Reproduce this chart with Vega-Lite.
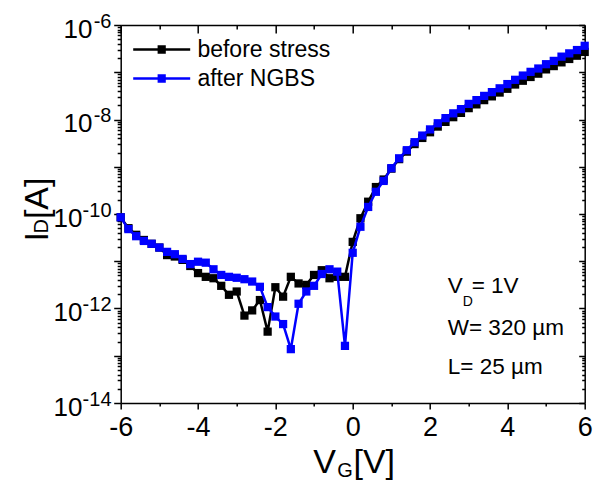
{
  "$schema": "https://vega.github.io/schema/vega-lite/v6.json",
  "width": 464,
  "height": 378,
  "autosize": {"type": "none"},
  "padding": {"left": 120.7, "top": 25, "right": 9.3, "bottom": 77},
  "background": "white",
  "config": {
    "font": "Liberation Sans",
    "view": {"stroke": null},
    "axis": {"domainColor": "black", "tickColor": "black", "labelColor": "black", "titleColor": "black", "domainWidth": 1.5, "tickWidth": 1.5, "grid": false, "labelFont": "Liberation Sans", "titleFont": "Liberation Sans", "titleFontWeight": "normal", "labelOverlap": false, "labelFlush": false}
  },
  "datasets": {
    "before": [
      {"V": -6, "I": 8.51e-11, "s": "before stress"}, {"V": -5.8, "I": 5.01e-11, "s": "before stress"}, {"V": -5.6, "I": 3.63e-11, "s": "before stress"}, {"V": -5.4, "I": 2.82e-11, "s": "before stress"}, {"V": -5.2, "I": 2.34e-11, "s": "before stress"}, {"V": -5, "I": 1.95e-11, "s": "before stress"}, {"V": -4.8, "I": 1.35e-11, "s": "before stress"}, {"V": -4.6, "I": 1.26e-11, "s": "before stress"}, {"V": -4.4, "I": 1.07e-11, "s": "before stress"}, {"V": -4.2, "I": 7.94e-12, "s": "before stress"}, {"V": -4, "I": 5.62e-12, "s": "before stress"}, {"V": -3.8, "I": 4.68e-12, "s": "before stress"}, {"V": -3.6, "I": 4.37e-12, "s": "before stress"}, {"V": -3.4, "I": 3.02e-12, "s": "before stress"}, {"V": -3.2, "I": 1.95e-12, "s": "before stress"}, {"V": -3, "I": 2.29e-12, "s": "before stress"}, {"V": -2.8, "I": 7.08e-13, "s": "before stress"}, {"V": -2.6, "I": 9.12e-13, "s": "before stress"}, {"V": -2.4, "I": 1.51e-12, "s": "before stress"}, {"V": -2.2, "I": 3.24e-13, "s": "before stress"}, {"V": -2, "I": 2.82e-12, "s": "before stress"}, {"V": -1.8, "I": 1.78e-12, "s": "before stress"}, {"V": -1.6, "I": 4.68e-12, "s": "before stress"}, {"V": -1.4, "I": 3.39e-12, "s": "before stress"}, {"V": -1.2, "I": 3.16e-12, "s": "before stress"}, {"V": -1, "I": 5.13e-12, "s": "before stress"}, {"V": -0.8, "I": 6.46e-12, "s": "before stress"}, {"V": -0.6, "I": 4.37e-12, "s": "before stress"}, {"V": -0.4, "I": 4.68e-12, "s": "before stress"}, {"V": -0.2, "I": 4.68e-12, "s": "before stress"}, {"V": 0, "I": 2.57e-11, "s": "before stress"}, {"V": 0.2, "I": 8.13e-11, "s": "before stress"}, {"V": 0.4, "I": 1.82e-10, "s": "before stress"}, {"V": 0.6, "I": 3.72e-10, "s": "before stress"}, {"V": 0.8, "I": 5.37e-10, "s": "before stress"}, {"V": 1, "I": 9.12e-10, "s": "before stress"}, {"V": 1.2, "I": 1.45e-9, "s": "before stress"}, {"V": 1.4, "I": 2.09e-9, "s": "before stress"}, {"V": 1.6, "I": 3.02e-9, "s": "before stress"}, {"V": 1.8, "I": 4.07e-9, "s": "before stress"}, {"V": 2, "I": 5.37e-9, "s": "before stress"}, {"V": 2.2, "I": 7.08e-9, "s": "before stress"}, {"V": 2.4, "I": 8.91e-9, "s": "before stress"}, {"V": 2.6, "I": 1.12e-8, "s": "before stress"}, {"V": 2.8, "I": 1.38e-8, "s": "before stress"}, {"V": 3, "I": 1.74e-8, "s": "before stress"}, {"V": 3.2, "I": 2.09e-8, "s": "before stress"}, {"V": 3.4, "I": 2.57e-8, "s": "before stress"}, {"V": 3.6, "I": 3.09e-8, "s": "before stress"}, {"V": 3.8, "I": 3.72e-8, "s": "before stress"}, {"V": 4, "I": 4.47e-8, "s": "before stress"}, {"V": 4.2, "I": 5.5e-8, "s": "before stress"}, {"V": 4.4, "I": 6.61e-8, "s": "before stress"}, {"V": 4.6, "I": 7.94e-8, "s": "before stress"}, {"V": 4.8, "I": 9.33e-8, "s": "before stress"}, {"V": 5, "I": 1.15e-7, "s": "before stress"}, {"V": 5.2, "I": 1.35e-7, "s": "before stress"}, {"V": 5.4, "I": 1.62e-7, "s": "before stress"}, {"V": 5.6, "I": 1.91e-7, "s": "before stress"}, {"V": 5.8, "I": 2.24e-7, "s": "before stress"}, {"V": 6, "I": 2.69e-7, "s": "before stress"}
    ],
    "after": [
      {"V": -6, "I": 8.51e-11, "s": "after NGBS"}, {"V": -5.8, "I": 4.79e-11, "s": "after NGBS"}, {"V": -5.6, "I": 3.39e-11, "s": "after NGBS"}, {"V": -5.4, "I": 2.69e-11, "s": "after NGBS"}, {"V": -5.2, "I": 2.34e-11, "s": "after NGBS"}, {"V": -5, "I": 1.95e-11, "s": "after NGBS"}, {"V": -4.8, "I": 1.58e-11, "s": "after NGBS"}, {"V": -4.6, "I": 1.41e-11, "s": "after NGBS"}, {"V": -4.4, "I": 1.12e-11, "s": "after NGBS"}, {"V": -4.2, "I": 8.71e-12, "s": "after NGBS"}, {"V": -4, "I": 9.77e-12, "s": "after NGBS"}, {"V": -3.8, "I": 9.33e-12, "s": "after NGBS"}, {"V": -3.6, "I": 6.76e-12, "s": "after NGBS"}, {"V": -3.4, "I": 5.13e-12, "s": "after NGBS"}, {"V": -3.2, "I": 4.68e-12, "s": "after NGBS"}, {"V": -3, "I": 4.47e-12, "s": "after NGBS"}, {"V": -2.8, "I": 4.17e-12, "s": "after NGBS"}, {"V": -2.6, "I": 3.72e-12, "s": "after NGBS"}, {"V": -2.4, "I": 2.88e-12, "s": "after NGBS"}, {"V": -2.2, "I": 1.07e-12, "s": "after NGBS"}, {"V": -2, "I": 6.76e-13, "s": "after NGBS"}, {"V": -1.8, "I": 4.68e-13, "s": "after NGBS"}, {"V": -1.6, "I": 1.38e-13, "s": "after NGBS"}, {"V": -1.4, "I": 1.26e-12, "s": "after NGBS"}, {"V": -1.2, "I": 2.29e-12, "s": "after NGBS"}, {"V": -1, "I": 3.02e-12, "s": "after NGBS"}, {"V": -0.8, "I": 5.37e-12, "s": "after NGBS"}, {"V": -0.6, "I": 6.76e-12, "s": "after NGBS"}, {"V": -0.4, "I": 6.03e-12, "s": "after NGBS"}, {"V": -0.2, "I": 1.62e-13, "s": "after NGBS"}, {"V": 0, "I": 1.51e-11, "s": "after NGBS"}, {"V": 0.2, "I": 5.37e-11, "s": "after NGBS"}, {"V": 0.4, "I": 1.41e-10, "s": "after NGBS"}, {"V": 0.6, "I": 2.95e-10, "s": "after NGBS"}, {"V": 0.8, "I": 5.01e-10, "s": "after NGBS"}, {"V": 1, "I": 9.33e-10, "s": "after NGBS"}, {"V": 1.2, "I": 1.51e-9, "s": "after NGBS"}, {"V": 1.4, "I": 2.24e-9, "s": "after NGBS"}, {"V": 1.6, "I": 3.31e-9, "s": "after NGBS"}, {"V": 1.8, "I": 4.57e-9, "s": "after NGBS"}, {"V": 2, "I": 6.17e-9, "s": "after NGBS"}, {"V": 2.2, "I": 8.32e-9, "s": "after NGBS"}, {"V": 2.4, "I": 1.07e-8, "s": "after NGBS"}, {"V": 2.6, "I": 1.35e-8, "s": "after NGBS"}, {"V": 2.8, "I": 1.66e-8, "s": "after NGBS"}, {"V": 3, "I": 2.14e-8, "s": "after NGBS"}, {"V": 3.2, "I": 2.57e-8, "s": "after NGBS"}, {"V": 3.4, "I": 3.16e-8, "s": "after NGBS"}, {"V": 3.6, "I": 3.8e-8, "s": "after NGBS"}, {"V": 3.8, "I": 4.57e-8, "s": "after NGBS"}, {"V": 4, "I": 5.62e-8, "s": "after NGBS"}, {"V": 4.2, "I": 6.92e-8, "s": "after NGBS"}, {"V": 4.4, "I": 8.51e-8, "s": "after NGBS"}, {"V": 4.6, "I": 1.02e-7, "s": "after NGBS"}, {"V": 4.8, "I": 1.2e-7, "s": "after NGBS"}, {"V": 5, "I": 1.48e-7, "s": "after NGBS"}, {"V": 5.2, "I": 1.74e-7, "s": "after NGBS"}, {"V": 5.4, "I": 2.14e-7, "s": "after NGBS"}, {"V": 5.6, "I": 2.51e-7, "s": "after NGBS"}, {"V": 5.8, "I": 2.95e-7, "s": "after NGBS"}, {"V": 6, "I": 3.63e-7, "s": "after NGBS"}
    ]
  },
  "layer": [
    {
      "data": {"name": "before"},
      "mark": {"type": "line", "strokeWidth": 2.5},
      "encoding": {
        "x": {"field": "V", "type": "quantitative", "scale": {"domain": [-6, 6], "nice": false, "zero": false},
          "axis": {"orient": "bottom", "values": [-6, -4, -2, 0, 2, 4, 6], "tickSize": 6, "labelFontSize": 27, "labelPadding": 5, "labelExpr": "'' + datum.value",
            "title": "V", "titleFontSize": 34, "titleAlign": "left", "titleBaseline": "alphabetic", "titleAngle": 0, "titleX": 192, "titleY": 69}},
        "y": {"field": "I", "type": "quantitative", "scale": {"type": "log", "domain": [1e-14, 1e-6], "nice": false},
          "axis": {"orient": "left", "values": [1e-14, 1e-13, 1e-12, 1e-11, 1e-10, 1e-9, 1e-8, 1e-7, 1e-6], "tickSize": 7,
            "labelExpr": "indexof(['1e-6','1e-8','1e-10','1e-12','1e-14'], format(datum.value, '.0e')) >= 0 ? '10' : ''",
            "labelFontSize": 26, "labelAlign": "right", "labelBaseline": "alphabetic", "labelOffset": 12,
            "labelPadding": {"condition": {"test": "datum.value > 5e-9", "value": 21.7}, "value": 31.7},
            "title": "I", "titleFontSize": 34, "titleAngle": -90, "titleAlign": "left", "titleBaseline": "alphabetic", "titleX": -73.7, "titleY": 216}},
        "color": {"field": "s", "type": "nominal", "scale": {"domain": ["before stress", "after NGBS"], "range": ["#000000", "#0000ff"]},
          "legend": {"orient": "none", "legendX": 29.5, "legendY": 13, "title": null, "padding": 0,
            "labelFontSize": 23, "labelFont": "Liberation Sans", "labelColor": "black", "labelOffset": 24.2,
            "symbolType": "M-2.85,0H2.85M-0.41,-0.3H0.41M-0.41,-0.15H0.41M-0.41,0H0.41M-0.41,0.15H0.41M-0.41,0.3H0.41", "symbolSize": 400, "symbolStrokeWidth": 2.5, "rowPadding": 5}}
      }
    },
    {
      "data": {"name": "before"},
      "mark": {"type": "square", "size": 68, "opacity": 1},
      "encoding": {
        "x": {"field": "V", "type": "quantitative",
          "axis": {"orient": "top", "values": [-6, -5, -4, -3, -2, -1, 0, 1, 2, 3, 4, 5, 6], "labels": false,
            "tickSize": {"condition": {"test": "datum.value % 2 == 0", "value": -8}, "value": -4},
            "title": "[V]", "titleFontSize": 34, "titleAlign": "left", "titleBaseline": "alphabetic", "titleAngle": 0, "titleX": 232.3, "titleY": 447}},
        "y": {"field": "I", "type": "quantitative",
          "axis": {"orient": "right", "labels": false,
            "values": [1e-14, 2e-14, 3e-14, 4e-14, 5e-14, 6e-14, 7e-14, 8e-14, 9e-14, 1e-13, 2e-13, 3e-13, 4e-13, 5e-13, 6e-13, 7e-13, 8e-13, 9e-13, 1e-12, 2e-12, 3e-12, 4e-12, 5e-12, 6e-12, 7e-12, 8e-12, 9e-12, 1e-11, 2e-11, 3e-11, 4e-11, 5e-11, 6e-11, 7e-11, 8e-11, 9e-11, 1e-10, 2e-10, 3e-10, 4e-10, 5e-10, 6e-10, 7e-10, 8e-10, 9e-10, 1e-9, 2e-9, 3e-9, 4e-9, 5e-9, 6e-9, 7e-9, 8e-9, 9e-9, 1e-8, 2e-8, 3e-8, 4e-8, 5e-8, 6e-8, 7e-8, 8e-8, 9e-8, 1e-7, 2e-7, 3e-7, 4e-7, 5e-7, 6e-7, 7e-7, 8e-7, 9e-7, 1e-6],
            "tickSize": {"condition": {"test": "abs(log(datum.value)/LN10 - round(log(datum.value)/LN10)) < 0.001", "value": -6}, "value": -3},
            "title": "[A]", "titleFontSize": 34, "titleAngle": -90, "titleAlign": "left", "titleBaseline": "alphabetic", "titleX": -537.7, "titleY": 193.6}},
        "color": {"field": "s", "type": "nominal"}
      }
    },
    {
      "data": {"name": "after"},
      "mark": {"type": "line", "strokeWidth": 2.5},
      "encoding": {
        "x": {"field": "V", "type": "quantitative",
          "axis": {"orient": "bottom", "values": [-5, -3, -1, 1, 3, 5], "tickSize": 3, "labels": false, "domain": false,
            "title": "G", "titleFontSize": 20, "titleAlign": "left", "titleBaseline": "alphabetic", "titleAngle": 0, "titleX": 216, "titleY": 73}},
        "y": {"field": "I", "type": "quantitative",
          "axis": {"orient": "left", "values": [1e-14, 1e-12, 1e-10, 1e-8, 1e-6], "ticks": false, "tickSize": 0, "domain": false,
            "labelExpr": "'' + round(log(datum.value)/LN10)", "labelFontSize": 20, "labelAlign": "right", "labelBaseline": "alphabetic", "labelOffset": 2, "labelPadding": 9.7,
            "title": "D", "titleFontSize": 20, "titleAngle": -90, "titleAlign": "left", "titleBaseline": "alphabetic", "titleX": -73.7, "titleY": 208}},
        "color": {"field": "s", "type": "nominal"}
      }
    },
    {
      "data": {"name": "after"},
      "mark": {"type": "square", "size": 68, "opacity": 1},
      "encoding": {
        "x": {"field": "V", "type": "quantitative", "axis": null},
        "y": {"field": "I", "type": "quantitative",
          "axis": {"orient": "left", "labels": false, "domain": false, "tickSize": 3.5, "title": null,
            "values": [2e-14, 3e-14, 4e-14, 5e-14, 6e-14, 7e-14, 8e-14, 9e-14, 2e-13, 3e-13, 4e-13, 5e-13, 6e-13, 7e-13, 8e-13, 9e-13, 2e-12, 3e-12, 4e-12, 5e-12, 6e-12, 7e-12, 8e-12, 9e-12, 2e-11, 3e-11, 4e-11, 5e-11, 6e-11, 7e-11, 8e-11, 9e-11, 2e-10, 3e-10, 4e-10, 5e-10, 6e-10, 7e-10, 8e-10, 9e-10, 2e-9, 3e-9, 4e-9, 5e-9, 6e-9, 7e-9, 8e-9, 9e-9, 2e-8, 3e-8, 4e-8, 5e-8, 6e-8, 7e-8, 8e-8, 9e-8, 2e-7, 3e-7, 4e-7, 5e-7, 6e-7, 7e-7, 8e-7, 9e-7]}},
        "color": {"field": "s", "type": "nominal"}
      }
    },
    {
      "data": {"values": [{}]},
      "mark": {"type": "text", "text": "V", "fontSize": 22.5, "align": "left", "baseline": "alphabetic", "font": "Liberation Sans", "color": "black"},
      "encoding": {"x": {"datum": 2.458, "type": "quantitative", "axis": null}, "y": {"datum": 2.13e-12, "type": "quantitative", "axis": null}}
    },
    {
      "data": {"values": [{}]},
      "mark": {"type": "text", "text": "D", "fontSize": 14, "align": "left", "baseline": "alphabetic", "font": "Liberation Sans", "color": "black"},
      "encoding": {"x": {"datum": 2.845, "type": "quantitative", "axis": null}, "y": {"datum": 1.13e-12, "type": "quantitative", "axis": null}}
    },
    {
      "data": {"values": [{}]},
      "mark": {"type": "text", "text": "= 1V", "fontSize": 22.5, "align": "left", "baseline": "alphabetic", "font": "Liberation Sans", "color": "black"},
      "encoding": {"x": {"datum": 3.078, "type": "quantitative", "axis": null}, "y": {"datum": 2.13e-12, "type": "quantitative", "axis": null}}
    },
    {
      "data": {"values": [{}]},
      "mark": {"type": "text", "text": ["W= 320 µm", "L= 25 µm"], "lineHeight": 39, "fontSize": 22.5, "align": "left", "baseline": "alphabetic", "font": "Liberation Sans", "color": "black"},
      "encoding": {"x": {"datum": 2.458, "type": "quantitative", "axis": null}, "y": {"datum": 2.75e-13, "type": "quantitative", "axis": null}}
    }
  ],
  "resolve": {"scale": {"x": "shared", "y": "shared"}, "axis": {"x": "independent", "y": "independent"}}
}
